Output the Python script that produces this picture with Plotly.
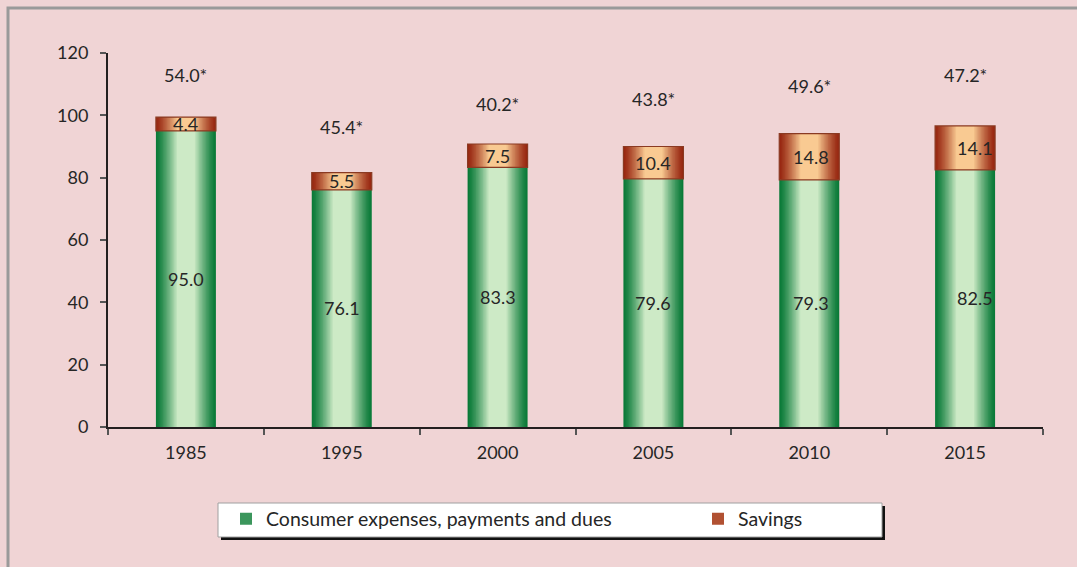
import plotly.graph_objects as go

# ---- data ----
years = ["1985", "1995", "2000", "2005", "2010", "2015"]
consumer = [95.0, 76.1, 83.3, 79.6, 79.3, 82.5]
savings = [4.4, 5.5, 7.5, 10.4, 14.8, 14.1]
star_labels = ["54.0*", "45.4*", "40.2*", "43.8*", "49.6*", "47.2*"]
series_names = ["Consumer expenses, payments and dues", "Savings"]

# ---- styling ----
W_PX, H_PX = 1077, 567
L, R, T, B = 108, 34, 53, 140
PLOT_W = W_PX - L - R
PLOT_H = H_PX - T - B
BG = "#F0D4D5"
FONT = "Lato"
TXT = "#262626"
FS = 18
BAR_W = 0.385
star_y = [112.9, 96.2, 103.6, 105.2, 109.4, 112.9]   # label placement (layout)
in_label_xshift = [0, 0, 0, 0, 2, 10]


def px_x(p):
    return (p - L) / PLOT_W


def px_y(q):
    return (H_PX - B - q) / PLOT_H


def lerp(c1, c2, t):
    a = [int(c1[i:i + 2], 16) for i in (1, 3, 5)]
    b = [int(c2[i:i + 2], 16) for i in (1, 3, 5)]
    return "rgb(%d,%d,%d)" % tuple(round(a[i] + (b[i] - a[i]) * t) for i in range(3))


fig = go.Figure()

N = 16
grad = [
    (consumer, None, "#0A7A38", "#CDEAC6", series_names[0], "legend"),
    (savings, consumer, "#982812", "#F9CA92", series_names[1], "legend2"),
]
for vals, base, dark, light, name, lg in grad:
    for k in range(N):
        frac = k / (N - 1)
        width = BAR_W * (1 - 0.7 * frac)
        t = frac ** 1.25
        fig.add_trace(go.Bar(
            x=years, y=vals, base=base, width=width,
            marker=dict(color=lerp(dark, light, t), line=dict(width=0)),
            name=name, showlegend=(k == N // 3), legend=lg, hoverinfo="skip",
        ))

# thin outline for savings segments
fig.add_trace(go.Bar(
    x=years, y=savings, base=consumer, width=BAR_W,
    marker=dict(color="rgba(0,0,0,0)", line=dict(color="#8A3A22", width=1.2)),
    showlegend=False, hoverinfo="skip",
))

annotations = []
for i, yr in enumerate(years):
    annotations.append(dict(x=i, y=consumer[i] / 2, text="%.1f" % consumer[i],
                            showarrow=False, xshift=in_label_xshift[i],
                            font=dict(family=FONT, size=FS, color=TXT)))
    annotations.append(dict(x=i, y=consumer[i] + savings[i] / 2, text="%.1f" % savings[i],
                            showarrow=False, xshift=in_label_xshift[i],
                            font=dict(family=FONT, size=FS, color=TXT)))
    annotations.append(dict(x=i, y=star_y[i], text=star_labels[i],
                            showarrow=False,
                            font=dict(family=FONT, size=FS, color=TXT)))

shapes = [
    # outer frame
    dict(type="rect", xref="paper", yref="paper",
         x0=px_x(8), x1=px_x(1100), y0=px_y(8), y1=px_y(600),
         line=dict(color="#9A9A9A", width=3), fillcolor="rgba(0,0,0,0)", layer="below"),
    # legend shadow
    dict(type="rect", xref="paper", yref="paper",
         x0=px_x(221), x1=px_x(885), y0=px_y(506), y1=px_y(540),
         line=dict(width=0), fillcolor="#111111", layer="below"),
    # legend box
    dict(type="rect", xref="paper", yref="paper",
         x0=px_x(218), x1=px_x(882), y0=px_y(503), y1=px_y(537),
         line=dict(color="#A0A0A0", width=1), fillcolor="white", layer="below"),
]

legend_common = dict(orientation="h", xanchor="left", yanchor="middle",
                     bgcolor="rgba(0,0,0,0)", borderwidth=0,
                     font=dict(family=FONT, size=19.5, color=TXT),
                     itemclick=False, itemdoubleclick=False)

fig.update_layout(
    width=W_PX, height=H_PX,
    margin=dict(l=L, r=R, t=T, b=B),
    paper_bgcolor=BG, plot_bgcolor=BG,
    barmode="overlay",
    font=dict(family=FONT, size=FS, color=TXT),
    annotations=annotations,
    shapes=shapes,
    legend=dict(x=px_x(226), y=px_y(519), **legend_common),
    legend2=dict(x=px_x(698), y=px_y(519), **legend_common),
    xaxis=dict(type="category", categoryorder="array", categoryarray=years,
               range=[-0.5, len(years) - 0.5],
               showgrid=False, showline=True, linecolor="#231F20", linewidth=2,
               ticks="outside", tickson="boundaries", ticklen=6, tickcolor="#555555", tickwidth=1.5,
               tickfont=dict(family=FONT, size=FS, color=TXT), zeroline=False, tickangle=0,
               ticklabelstandoff=8),
    yaxis=dict(range=[0, 120], dtick=20, showgrid=False, showline=True, linecolor="#231F20",
               linewidth=2, ticks="outside", ticklen=6, tickcolor="#555555", tickwidth=1.5,
               tickfont=dict(family=FONT, size=FS, color=TXT), zeroline=False,
               ticklabelstandoff=8),
)

fig.write_html("out.html")
